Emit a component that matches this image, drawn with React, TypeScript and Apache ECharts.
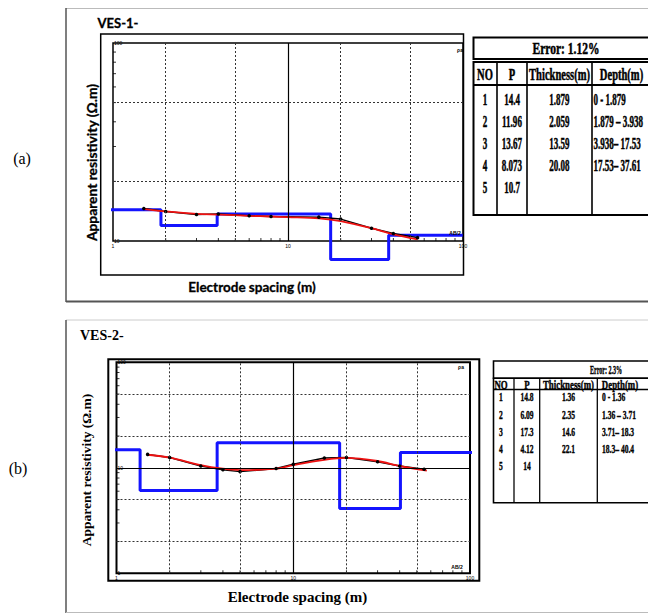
import React, { useEffect, useRef } from "react";
import * as echarts from "echarts";

// ---------- VES-1 ----------
const ves1Spacing = [1.5, 2, 3, 4, 6, 8, 15, 20, 30, 40, 55];
const ves1Observed = [14.6, 14.1, 13.6, 13.7, 13.4, 13.3, 13.2, 12.9, 11.6, 10.9, 10.4];
const ves1FitSpacing = [1.5, 2, 3, 4, 6, 8, 10, 15, 20, 30, 40, 55];
const ves1Fit = [14.5, 14.1, 13.7, 13.6, 13.4, 13.3, 13.2, 13.0, 12.6, 11.6, 10.8, 10.2];
const ves1Rho = [14.4, 11.96, 13.67, 8.073, 10.7];
const ves1Thickness = ["1.879", "2.059", "13.59", "20.08"];
const ves1Depth = [1.879, 3.938, 17.53, 37.61];
const ves1DepthLabels = ["0 - 1.879", "1.879 \u2013 3.938", "3.938\u2013 17.53", "17.53\u2013 37.61"];
const ves1Error = "Error: 1.12%";
const ves1ModelRange = [0.85, 100];

// ---------- VES-2 ----------
const ves2Spacing = [1.5, 2, 3, 4, 5, 8, 10, 15, 20, 30, 40, 55];
const ves2Observed = [13.4, 12.5, 10.4, 9.6, 9.2, 9.85, 10.8, 12.4, 12.5, 11.4, 10.4, 9.7];
const ves2FitSpacing = [1.5, 2, 3, 4, 5, 8, 10, 15, 20, 30, 40, 57];
const ves2Fit = [13.3, 12.5, 10.6, 9.8, 9.5, 9.8, 10.6, 11.9, 12.4, 11.6, 10.4, 9.4];
const ves2Rho = [14.8, 6.09, 17.3, 4.12, 14];
const ves2Thickness = ["1.36", "2.35", "14.6", "22.1"];
const ves2Depth = [1.36, 3.71, 18.3, 40.4];
const ves2DepthLabels = ["0 - 1.36", "1.36 \u2013 3.71", "3.71\u2013 18.3", "18.3\u2013 40.4"];
const ves2Error = "Error: 2.3%";
const ves2ModelRange = [0.9, 113];

// ---------- shared ----------
const tableHeaders = ["NO", "P", "Thickness(m)", "Depth(m)"];
const layerNumbers = ["1", "2", "3", "4", "5"];
const dottedX = [2, 5, 20, 50];
const solidX = [10];
const ves1DottedY = [20, 50];
const ves2DottedY = [2, 5, 20, 50];
const ves2SolidY = [10];
const minorX = [2, 3, 4, 5, 6, 7, 8, 9, 20, 30, 40, 50, 60, 70, 80, 90];
const ves1MinorY = [20, 30, 40, 50, 60, 70, 80, 90];
const ves2MinorY = [2, 3, 4, 5, 6, 7, 8, 9, 20, 30, 40, 50, 60, 70, 80, 90];

function modelSteps(rho: number[], depth: number[], range: number[]) {
  const pts: number[][] = [[range[0], rho[0]]];
  depth.forEach((d, i) => {
    pts.push([d, rho[i]]);
    pts.push([d, rho[i + 1]]);
  });
  pts.push([range[1], rho[rho.length - 1]]);
  return pts;
}

function txt(text: string, x: number, y: number, font: string, opts: any = {}) {
  const style: any = {
    text,
    font,
    fill: opts.fill ?? "#000",
    align: opts.align ?? "center",
    verticalAlign: "middle",
    textAlign: opts.align ?? "center",
    textVerticalAlign: "middle",
  };
  if (opts.heavy) {
    style.stroke = "#000";
    style.lineWidth = opts.heavy;
  }
  return {
    type: "text",
    x,
    y,
    scaleX: opts.scaleX ?? 1,
    rotation: opts.rotation ?? 0,
    silent: true,
    z: 10,
    style,
  };
}

function line(x1: number, y1: number, x2: number, y2: number, stroke: string, lineWidth: number) {
  return {
    type: "line",
    silent: true,
    z: 10,
    shape: { x1, y1, x2, y2 },
    style: { stroke, lineWidth },
  };
}

function rect(x: number, y: number, w: number, h: number, stroke: string, lineWidth: number) {
  return {
    type: "rect",
    silent: true,
    z: 10,
    shape: { x, y, width: w, height: h },
    style: { fill: "none", stroke, lineWidth },
  };
}

function table(g: any, rho: number[], thick: string[], depthLabels: string[], error: string) {
  const els: any[] = [];
  const w = g.x1 - g.x0;
  els.push(rect(g.x0, g.headTop, w, g.headBottom - g.headTop, "#000", g.lw));
  els.push(rect(g.x0, g.bodyTop, w, g.bottom - g.bodyTop, "#000", g.lw));
  els.push(line(g.x0, g.colHeadBottom, g.x1, g.colHeadBottom, "#000", g.lw));
  g.cols.forEach((c: number) => els.push(line(c, g.bodyTop, c, g.bottom, "#000", g.lw * 0.8)));
  const headFont = `bold ${g.headSize}px "Liberation Serif"`;
  const errFont = `bold ${g.errSize}px "Liberation Serif"`;
  const dataFont = `bold ${g.dataSize}px "Liberation Serif"`;
  const heavy = g.heavy;
  els.push(txt(error, g.errorX, g.headerY, errFont, { scaleX: g.errScale, heavy }));
  tableHeaders.forEach((h, i) => {
    els.push(txt(h, g.hdrX[i], g.colHeaderY, headFont, { scaleX: g.hdrScale, heavy }));
  });
  layerNumbers.forEach((n, i) => {
    const y = g.rowY0 + g.rowStep * i;
    els.push(txt(n, g.hdrX[0], y, dataFont, { scaleX: g.dataScale, heavy }));
    els.push(txt(String(rho[i]), g.hdrX[1], y, dataFont, { scaleX: g.dataScale, heavy }));
    if (i < thick.length) {
      els.push(txt(thick[i], g.hdrX[2], y, dataFont, { scaleX: g.dataScale, heavy }));
      els.push(txt(depthLabels[i], g.depthX, y, dataFont, { scaleX: g.dataScale, align: "left", heavy }));
    }
  });
  return els;
}

function axisBase(gridIndex: number, min: number, max: number) {
  return {
    type: "log",
    logBase: 10,
    gridIndex,
    min,
    max,
    axisLine: { show: false },
    axisTick: { show: false },
    splitLine: { show: false },
  };
}

function panelSeries(
  idx: number,
  yMin: number,
  minorY: number[],
  dottedY: number[],
  solidY: number[],
  spacing: number[],
  observed: number[],
  fitSpacing: number[],
  fit: number[],
  steps: number[][]
) {
  const dotted = { type: [2, 2], color: "#333", width: 1 };
  const solid = { type: "solid", color: "#000", width: 1.2 };
  return [
    {
      type: "scatter",
      xAxisIndex: idx,
      yAxisIndex: idx,
      symbol: "rect",
      symbolSize: [1, 3],
      symbolOffset: [0, -1.5],
      itemStyle: { color: "#000" },
      silent: true,
      data: minorX.map((v) => [v, yMin]),
      markLine: {
        silent: true,
        symbol: ["none", "none"],
        label: { show: false },
        data: [
          ...dottedX.map((v) => ({ xAxis: v, lineStyle: dotted })),
          ...solidX.map((v) => ({ xAxis: v, lineStyle: solid })),
          ...dottedY.map((v) => ({ yAxis: v, lineStyle: dotted })),
          ...solidY.map((v) => ({ yAxis: v, lineStyle: solid })),
        ],
      },
    },
    {
      type: "scatter",
      xAxisIndex: idx,
      yAxisIndex: idx,
      symbol: "rect",
      symbolSize: [3, 1],
      symbolOffset: [1.5, 0],
      itemStyle: { color: "#000" },
      silent: true,
      data: minorY.map((v) => [1, v]),
    },
    {
      type: "line",
      xAxisIndex: idx,
      yAxisIndex: idx,
      clip: false,
      symbol: "none",
      lineStyle: { color: "#1414ff", width: 3 },
      data: steps,
    },
    {
      type: "line",
      xAxisIndex: idx,
      yAxisIndex: idx,
      clip: false,
      symbol: "circle",
      symbolSize: 3.5,
      itemStyle: { color: "#000" },
      lineStyle: { color: "#000", width: 1.5 },
      data: spacing.map((x, i) => [x, observed[i]]),
    },
    {
      type: "line",
      xAxisIndex: idx,
      yAxisIndex: idx,
      clip: false,
      smooth: 0.3,
      symbol: "none",
      lineStyle: { color: "#ee1111", width: 1.8 },
      data: fitSpacing.map((x, i) => [x, fit[i]]),
    },
  ];
}

export default function App() {
  const ref = useRef<HTMLDivElement>(null);
  useEffect(() => {
    if (!ref.current) return;
    const chart = echarts.init(ref.current, undefined, { renderer: "svg" });
    const tickLabel = { show: true, fontSize: 5, color: "#000", margin: 2, fontFamily: "Liberation Sans" };

    const sansBold = (s: number) => `bold ${s}px Lato`;
    const serifBold = (s: number) => `bold ${s}px "Liberation Serif"`;

    const table1 = table(
      {
        x0: 473.5, x1: 662, headTop: 37.5, headBottom: 59, bodyTop: 62, colHeadBottom: 85, bottom: 215,
        cols: [497, 527, 592], lw: 2, headSize: 17, errSize: 17, dataSize: 17, errScale: 0.68, hdrScale: 0.62,
        dataScale: 0.53, heavy: 0.5,
        errorX: 566, headerY: 48.5, colHeaderY: 73.5, hdrX: [485, 512, 559.5, 621.5], depthX: 593.5,
        rowY0: 99, rowStep: 22.2,
      },
      ves1Rho, ves1Thickness, ves1DepthLabels, ves1Error
    );
    const table2 = table(
      {
        x0: 493.5, x1: 662, headTop: 361, headBottom: 378.3, bodyTop: 378.3, colHeadBottom: 389.5, bottom: 502.7,
        cols: [514, 539.7, 597.3], lw: 1.6, headSize: 13, errSize: 13.5, dataSize: 13.5, errScale: 0.45, hdrScale: 0.68,
        dataScale: 0.56, heavy: 0.4,
        errorX: 606, headerY: 369.5, colHeaderY: 384, hdrX: [501, 527, 568.5, 620], depthX: 602,
        rowY0: 396.5, rowStep: 17.2,
      },
      ves2Rho, ves2Thickness, ves2DepthLabels, ves2Error
    );

    const graphics: any[] = [
      // panel (a) border
      line(66, 8.5, 648, 8.5, "#bbb", 1),
      line(66, 8, 66, 302, "#555", 1.5),
      line(66, 301.5, 648, 301.5, "#555", 2),
      // panel (b) border
      line(66, 320, 648, 320, "#ccc", 1),
      line(66, 320, 66, 613, "#555", 1.5),
      line(66, 612.5, 648, 612.5, "#bbb", 1),
      // plot frames
      rect(100.7, 34, 362.8, 241, "#000", 1.5),
      rect(108.3, 359.3, 371, 221.4, "#000", 2),
      // titles
      txt("VES-1-", 97.5, 23, sansBold(13), { align: "left", heavy: 0.3 }),
      txt("VES-2-", 80, 335, serifBold(14), { align: "left" }),
      txt("(a)", 22, 158, '16px "Liberation Serif"'),
      txt("(b)", 18, 468, '16px "Liberation Serif"'),
      txt("Apparent resistivity (\u03A9.m)", 91, 162.5, sansBold(13.8), { rotation: Math.PI / 2, heavy: 0.3 }),
      txt("Electrode spacing (m)", 252, 287, sansBold(13.5), { heavy: 0.3 }),
      txt("Apparent resistivity (\u03A9.m)", 86.7, 470, serifBold(13.5), { rotation: Math.PI / 2 }),
      txt("Electrode spacing (m)", 297.5, 597, serifBold(15)),
      txt("\u03C1a", 460, 50, "bold 5px Liberation Sans"),
      txt("AB/2", 455, 233, "bold 5px Liberation Sans"),
      txt("\u03C1a", 461, 366.5, "bold 5px Liberation Sans"),
      txt("AB/2", 457, 566.5, "bold 5px Liberation Sans"),
      ...table1,
      ...table2,
    ];

    chart.setOption({
      animation: false,
      backgroundColor: "#fff",
      grid: [
        { left: 113, top: 43, width: 350, height: 198, show: true, borderColor: "#000", borderWidth: 1.5, backgroundColor: "transparent" },
        { left: 116.5, top: 362.3, width: 353.5, height: 211, show: true, borderColor: "#000", borderWidth: 2, backgroundColor: "transparent" },
      ],
      xAxis: [
        { ...axisBase(0, 1, 100), axisLabel: tickLabel },
        { ...axisBase(1, 1, 100), axisLabel: tickLabel },
      ],
      yAxis: [
        { ...axisBase(0, 10, 100), axisLabel: { ...tickLabel, inside: true, margin: 1 } },
        { ...axisBase(1, 1, 100), axisLabel: { ...tickLabel, inside: true, margin: 1 } },
      ],
      series: [
        ...panelSeries(0, 10, ves1MinorY, ves1DottedY, [], ves1Spacing, ves1Observed, ves1FitSpacing, ves1Fit,
          modelSteps(ves1Rho, ves1Depth, ves1ModelRange)),
        ...panelSeries(1, 1, ves2MinorY, ves2DottedY, ves2SolidY, ves2Spacing, ves2Observed, ves2FitSpacing, ves2Fit,
          modelSteps(ves2Rho, ves2Depth, ves2ModelRange)),
      ],
      graphic: graphics,
    });
    return () => chart.dispose();
  }, []);
  return (
    <div
      ref={ref}
      style={{ position: "fixed", left: 0, top: 0, width: 648, height: 614, background: "#fff" }}
    />
  );
}
